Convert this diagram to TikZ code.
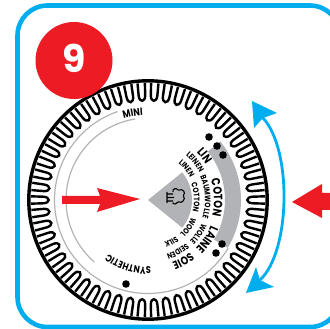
\documentclass[tikz,border=0pt]{standalone}
\usepackage{fontspec}
\setmainfont{Poppins}[BoldFont={* Bold}]
\newfontfamily\dialfont{Poppins}[UprightFont={* Bold},FakeStretch=.82]
\usetikzlibrary{decorations.text}
\definecolor{frameblue}{HTML}{00AEEF}
\definecolor{signred}{HTML}{ED1C24}
\definecolor{dialgray}{HTML}{B1B3B6}
\newcommand{\dialword}[4]{\path[decorate,decoration={text along path,text align=center,text={|\fontsize{#3}{#3}\dialfont|#4}}] (#2+60:#1) arc[start angle=#2+60,end angle=#2-60,radius=#1];}
\begin{document}
\begin{tikzpicture}[x=1pt,y=1pt]
 \path[use as bounding box,clip] (0,0) rectangle (330,329);
 \draw[frameblue,line width=4.6pt,rounded corners=30pt] (17.5,2) rectangle (340,323.5);
 \begin{scope}[shift={(148,129)}]
  \fill[dialgray] (39:77) arc[start angle=39,end angle=-31,radius=77] -- (-31:93) arc[start angle=-31,end angle=39,radius=93] -- cycle;
  \draw[dialgray,line width=1.2pt] (109:93.5) arc[start angle=109,delta angle=220,radius=93.5];
  \draw[dialgray,line width=1.2pt] (99:82) arc[start angle=99,delta angle=130,radius=82];
  \fill[dialgray] (0,0) -- (39:44) arc[start angle=39,end angle=-39,radius=44] -- cycle;
  \draw[line width=3.4pt] (0,0) circle (119.2);
  \foreach \i in {1,...,54}{\pgfmathsetmacro{\a}{\i*6.6667}
   \draw[line width=2.4pt] (\a-1.8:117) -- (\a-1.8:105) .. controls (\a-1.8:97.5) and (\a+1.8:97.5) .. (\a+1.8:105) -- (\a+1.8:117);}
  \dialword{85}{100}{10.5}{MINI}
  \dialword{67}{-107}{10}{SYNTHETIC}
  \dialword{66}{2}{12}{COTON}
  \dialword{57}{3}{8}{BAUMWOLLE}
  \dialword{46}{3}{8}{COTTON}
  \dialword{68}{38}{12}{LIN}
  \dialword{58.5}{39}{8}{LEINEN}
  \dialword{47.5}{39}{8}{LINEN}
  \dialword{68}{-34}{12}{LAINE}
  \dialword{58.5}{-34}{8}{WOLLE}
  \dialword{46.5}{-34}{8}{WOOL}
  \dialword{67}{-60}{11.5}{SOIE}
  \dialword{57.5}{-60}{8}{SEIDEN}
  \dialword{45.5}{-61}{8}{SILK}
 \end{scope}
 \foreach \p in {(209,192),(217,183),(223,174),(222,85),(216,76),(126,45)}{\fill \p circle (3.8);}
 \draw[line width=1.1pt,rounded corners=.8pt] (167,137) -- (167,126) (167,135) -- (173,135) (167,131.5) -- (174,131.5) (167,128) -- (173,128)
  (173,137) .. controls (172,141) and (177,141) .. (178,138.5) .. controls (183,141) and (186,136) .. (183,133.5) .. controls (186,130) and (182,125) .. (178,127.5) .. controls (176,124) and (172,125) .. (173,126.5);
 \fill[signred] (62,125) -- (100,125) -- (97,117) -- (140,130) -- (97,141) -- (100,133) -- (62,133) -- cycle;
 \fill[signred] (330,119) -- (322,119) -- (322,111) -- (292,127) -- (322,145) -- (322,136) -- (330,136) -- cycle;
 \draw[frameblue,line width=2.8pt] (263,211) .. controls (292,180) and (291,78) .. (260,49);
 \fill[frameblue] (252,228) -- (277,216) -- (263,211) -- (254,201) -- cycle;
 \fill[frameblue] (246,36) -- (274,42) -- (260,49) -- (256,62) -- cycle;
 \node[circle,fill=signred,minimum size=77pt,inner sep=0pt,text=white,font=\fontsize{38}{38}\selectfont\bfseries] (badge) at (74,268.5) {\raisebox{4pt}{9}};
\end{tikzpicture}
\end{document}
